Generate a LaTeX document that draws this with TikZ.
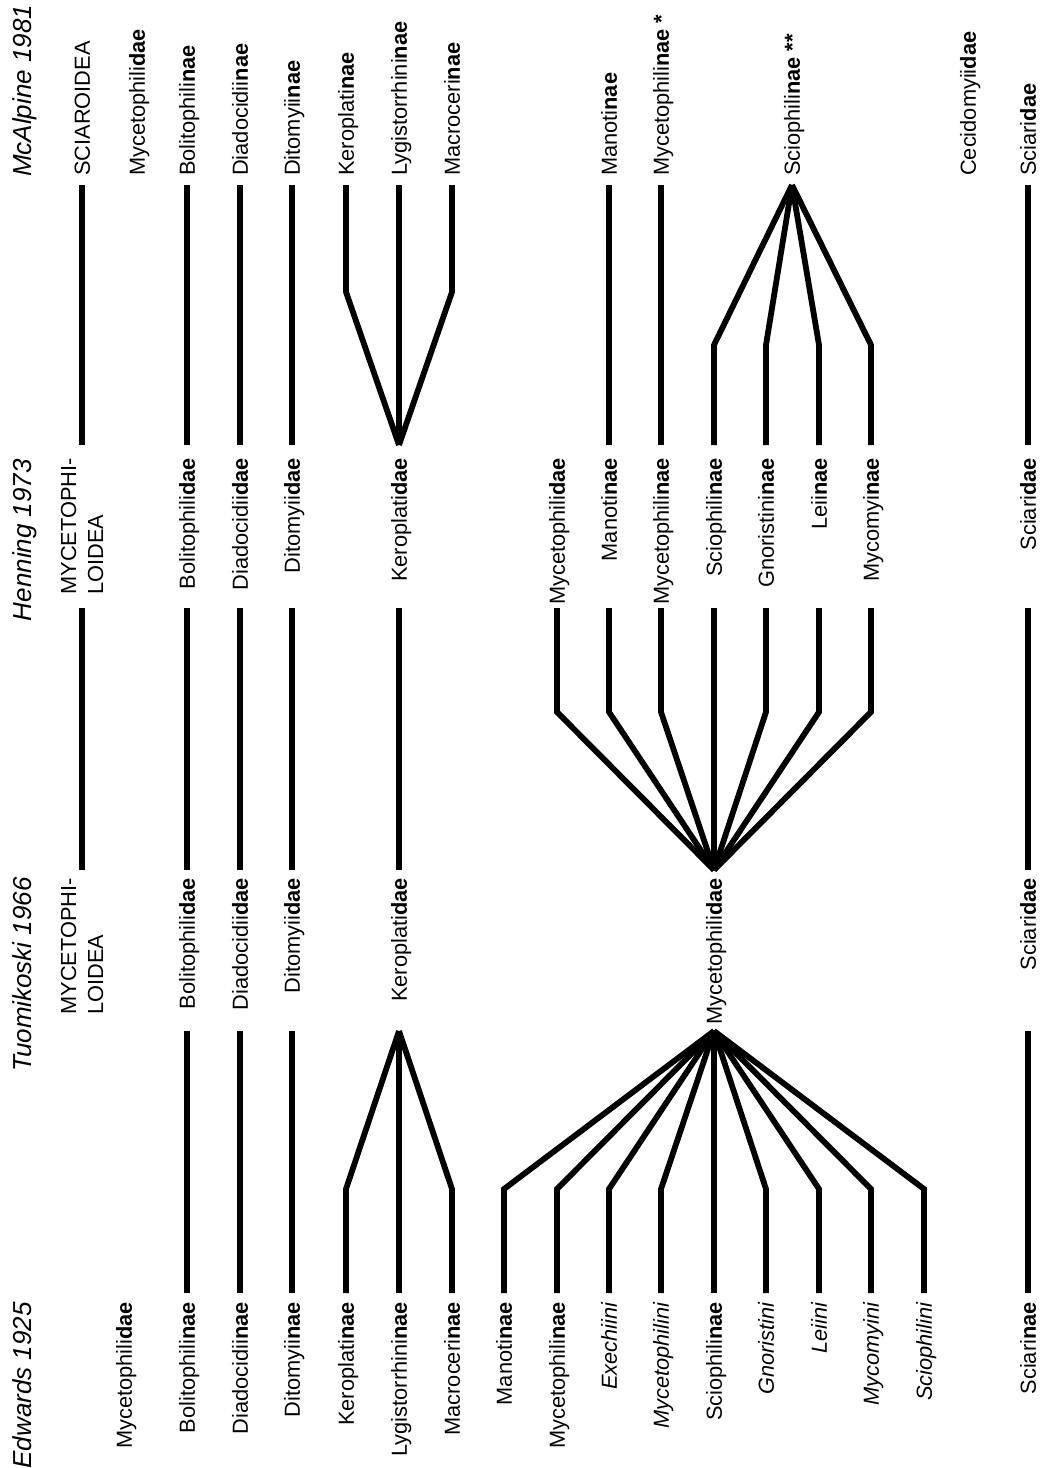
\documentclass[tikz,border=0pt]{standalone}
\usepackage{fontspec}
\setmainfont{Liberation Sans}
\tikzset{
  lab/.style={rotate=90, inner sep=0pt, text height=15.7pt, text depth=0pt, font=\fontsize{21.8}{27}\selectfont},
  ttl/.style={rotate=90, inner sep=0pt, text height=18.7pt, text depth=0pt, font=\fontsize{26}{30}\selectfont\itshape},
  twol/.style={rotate=90, inner sep=0pt, align=left, font=\fontsize{21.8}{27}\selectfont},
  br/.style={line width=5.8pt},
}
\begin{document}
\begin{tikzpicture}
\useasboundingbox (0,0) rectangle (1046pt,-1468pt);
\begin{scope}[x=1pt,y=1pt]
% level coordinates
\coordinate (rA1) at (0,-185);
\coordinate (rAk) at (0,-292);
\coordinate (rAs) at (0,-345);
\coordinate (rA2) at (0,-445);
\coordinate (rB1) at (0,-608);
\coordinate (rBk) at (0,-712);
\coordinate (rB2) at (0,-870);
\coordinate (rC1) at (0,-1031);
\coordinate (rCk) at (0,-1189);
\coordinate (rC2) at (0,-1293);

% titles
\node[ttl, anchor=west] (t-ma) at (22,-177) {McAlpine 1981};
\node[ttl, anchor=east] (t-he) at (22,-459) {Henning 1973};
\node[ttl, anchor=east] (t-tu) at (22,-877) {Tuomikoski 1966};
\node[ttl, anchor=east] (t-ed) at (22,-1302) {Edwards 1925};

% McAlpine 1981
\node[lab, anchor=west] (ma-sup) at (82,-176) {SCIAROIDEA};
\node[lab, anchor=west] (ma-myc) at (137,-176) {Mycetophili\textbf{dae}};
\node[lab, anchor=west] (ma-bol) at (187,-176) {Bolitophili\textbf{nae}};
\node[lab, anchor=west] (ma-dia) at (240,-176) {Diadocidii\textbf{nae}};
\node[lab, anchor=west] (ma-dit) at (292,-176) {Ditomyii\textbf{nae}};
\node[lab, anchor=west] (ma-ker) at (346,-176) {Keroplati\textbf{nae}};
\node[lab, anchor=west] (ma-lyg) at (399,-176) {Lygistorrhini\textbf{nae}};
\node[lab, anchor=west] (ma-mac) at (452,-176) {Macroceri\textbf{nae}};
\node[lab, anchor=west] (ma-man) at (609,-176) {Manoti\textbf{nae}};
\node[lab, anchor=west] (ma-myp) at (661,-176) {Mycetophili\textbf{nae *}};
\node[lab, anchor=west] (ma-sci) at (792,-176) {Sciophili\textbf{nae **}};
\node[lab, anchor=west] (ma-cec) at (968,-176) {Cecidomyii\textbf{dae}};
\node[lab, anchor=west] (ma-sca) at (1028,-176) {Sciari\textbf{dae}};

% Henning 1973
\node[twol, anchor=east] (he-sup) at (82,-458) {MYCETOPHI-\\LOIDEA};
\node[lab, anchor=east] (he-bol) at (187,-458) {Bolitophili\textbf{dae}};
\node[lab, anchor=east] (he-dia) at (240,-458) {Diadocidii\textbf{dae}};
\node[lab, anchor=east] (he-dit) at (292,-458) {Ditomyii\textbf{dae}};
\node[lab, anchor=east] (he-ker) at (399,-458) {Keroplati\textbf{dae}};
\node[lab, anchor=east] (he-myc) at (557,-458) {Mycetophili\textbf{dae}};
\node[lab, anchor=east] (he-man) at (609,-458) {Manoti\textbf{nae}};
\node[lab, anchor=east] (he-myp) at (661,-458) {Mycetophili\textbf{nae}};
\node[lab, anchor=east] (he-sci) at (714,-458) {Sciophili\textbf{nae}};
\node[lab, anchor=east] (he-gno) at (766,-458) {Gnoristini\textbf{nae}};
\node[lab, anchor=east] (he-lei) at (819,-458) {Leii\textbf{nae}};
\node[lab, anchor=east] (he-mco) at (871,-458) {Mycomyi\textbf{nae}};
\node[lab, anchor=east] (he-sca) at (1028,-458) {Sciari\textbf{dae}};

% Tuomikoski 1966
\node[twol, anchor=east] (tu-sup) at (82,-878) {MYCETOPHI-\\LOIDEA};
\node[lab, anchor=east] (tu-bol) at (187,-878) {Bolitophili\textbf{dae}};
\node[lab, anchor=east] (tu-dia) at (240,-878) {Diadocidii\textbf{dae}};
\node[lab, anchor=east] (tu-dit) at (292,-878) {Ditomyii\textbf{dae}};
\node[lab, anchor=east] (tu-ker) at (399,-878) {Keroplati\textbf{dae}};
\node[lab, anchor=east] (tu-myc) at (714,-878) {Mycetophili\textbf{dae}};
\node[lab, anchor=east] (tu-sca) at (1028,-878) {Sciari\textbf{dae}};

% Edwards 1925
\node[lab, anchor=east] (ed-myc) at (124,-1302) {Mycetophili\textbf{dae}};
\node[lab, anchor=east] (ed-bol) at (187,-1302) {Bolitophili\textbf{nae}};
\node[lab, anchor=east] (ed-dia) at (240,-1302) {Diadocidii\textbf{nae}};
\node[lab, anchor=east] (ed-dit) at (292,-1302) {Ditomyii\textbf{nae}};
\node[lab, anchor=east] (ed-ker) at (346,-1302) {Keroplati\textbf{nae}};
\node[lab, anchor=east] (ed-lyg) at (399,-1302) {Lygistorrhini\textbf{nae}};
\node[lab, anchor=east] (ed-mac) at (452,-1302) {Macroceri\textbf{nae}};
\node[lab, anchor=east] (ed-man) at (504,-1302) {Manoti\textbf{nae}};
\node[lab, anchor=east] (ed-myp) at (557,-1302) {Mycetophili\textbf{nae}};
\node[lab, anchor=east] (ed-exe) at (609,-1302) {\textit{Exechiini}};
\node[lab, anchor=east] (ed-mys) at (661,-1302) {\textit{Mycetophilini}};
\node[lab, anchor=east] (ed-sci) at (714,-1302) {Sciophili\textbf{nae}};
\node[lab, anchor=east] (ed-gno) at (766,-1302) {\textit{Gnoristini}};
\node[lab, anchor=east] (ed-lei) at (819,-1302) {\textit{Leiini}};
\node[lab, anchor=east] (ed-mco) at (871,-1302) {\textit{Mycomyini}};
\node[lab, anchor=east] (ed-scs) at (924,-1302) {\textit{Sciophilini}};
\node[lab, anchor=east] (ed-sca) at (1028,-1302) {Sciari\textbf{nae}};

% ---- McAlpine -> Henning
\foreach \a/\b in {sup/sup, bol/bol, dia/dia, dit/dit, lyg/ker, man/man, myp/myp, sca/sca}
  \draw[br] (ma-\a.west |- rA1) -- (he-\b.east |- rA2);
\foreach \a in {ker, mac}
  \draw[br] (ma-\a.west |- rA1) -- (ma-\a.west |- rAk) -- (he-ker.east |- rA2);
\coordinate (apS) at (ma-sci.west |- rA1);
\foreach \b in {sci, gno, lei, mco}
  \draw[br] (apS) -- (he-\b.east |- rAs) -- (he-\b.east |- rA2);

% ---- Henning -> Tuomikoski
\foreach \a in {sup, bol, dia, dit, ker, sca}
  \draw[br] (he-\a.east |- rB1) -- (tu-\a.east |- rB2);
\coordinate (apM) at (tu-myc.east |- rB2);
\foreach \a in {myc, man, myp, gno, lei, mco}
  \draw[br] (he-\a.east |- rB1) -- (he-\a.east |- rBk) -- (apM);
\draw[br] (he-sci.east |- rB1) -- (apM);

% ---- Tuomikoski -> Edwards
\foreach \a in {bol, dia, dit, sca}
  \draw[br] (tu-\a.east |- rC1) -- (ed-\a.east |- rC2);
\coordinate (apK) at (tu-ker.east |- rC1);
\foreach \b in {ker, mac}
  \draw[br] (apK) -- (ed-\b.east |- rCk) -- (ed-\b.east |- rC2);
\draw[br] (apK) -- (ed-lyg.east |- rC2);
\coordinate (apE) at (tu-myc.east |- rC1);
\foreach \b in {man, myp, exe, mys, gno, lei, mco, scs}
  \draw[br] (apE) -- (ed-\b.east |- rCk) -- (ed-\b.east |- rC2);
\draw[br] (apE) -- (ed-sci.east |- rC2);
\end{scope}
\end{tikzpicture}
\end{document}
